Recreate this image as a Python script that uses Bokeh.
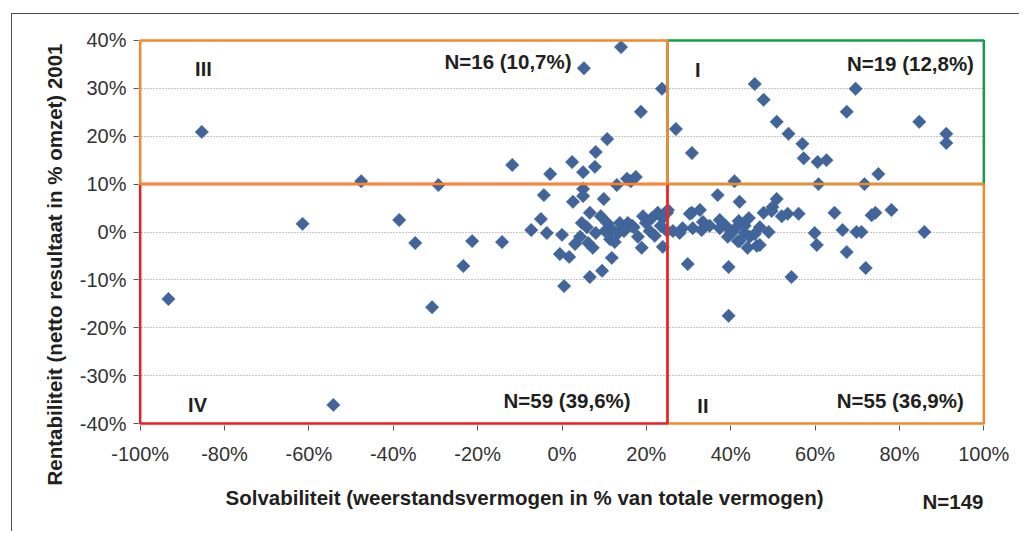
import math
from bokeh.plotting import figure
from bokeh.models import Range1d, FixedTicker, Title, ColumnDataSource
from bokeh.core.properties import value
from bokeh.embed import file_html
from bokeh.resources import INLINE

# Solvabiliteit (x, %) and Rentabiliteit (y, %) per company
solvabiliteit = [
    # quadrant III
    -85.4, -47.6, -11.8, 14.0, 5.2, 23.7, 18.7, 10.7, 8.0, 2.4, 7.8, 5.0, -2.8, 17.5, 15.4, 16.3,
    # quadrant I
    45.7, 69.6, 47.8, 67.5, 50.9, 84.7, 53.7, 91.1, 91.1, 57.0, 57.3, 60.6, 62.7, 75.0, 27.0, 30.8, 40.9, 60.8, 71.7,
    # quadrant IV
    -29.3, -61.5, -38.6, -34.8, -93.3, -54.2, -30.8, -23.4, -21.3, 13.0, 5.0, -4.3, 5.0, 2.6, 9.9, 6.6,
    -5.0, -7.3, -3.6, -14.2, 0.0, 4.7, 4.3, 6.2, 7.3, -0.5, 1.7, 11.8, 9.5, 6.6, 0.5, 16.6, 18.9, 19.2,
    23.9, 23.9, 24.9, 24.9, 10.7, 11.8, 13.7, 13.3, 11.4, 14.7, 15.6, 12.5, 10.2, 19.9, 20.8, 21.3, 22.0,
    22.7, 23.4, 8.0, 5.9, 9.2, 17.0, 18.0, 3.1,
    # quadrant II
    36.9, 42.1, 30.8, 32.7, 33.4, 37.4, 37.4, 41.9, 44.3, 40.2, 39.3, 43.3, 42.1, 44.0, 46.2, 46.9, 47.8,
    49.9, 50.9, 52.1, 53.5, 56.1, 49.0, 64.6, 59.9, 66.5, 60.4, 67.5, 69.8, 29.8, 39.5, 54.4, 39.5, 26.3,
    28.6, 31.0, 33.1, 25.1, 71.0, 72.0, 73.4, 74.3, 78.1, 85.9, 40.9, 43.3, 44.5, 41.7, 45.7, 27.9, 35.0,
    38.8, 46.9, 49.7, 30.3,
]
rentabiliteit = [
    # quadrant III
    20.9, 10.6, 14.0, 38.6, 34.2, 29.9, 25.1, 19.4, 16.7, 14.6, 13.6, 12.5, 12.1, 11.5, 11.1, 10.6,
    # quadrant I
    30.9, 29.9, 27.6, 25.1, 23.0, 23.0, 20.5, 20.5, 18.6, 18.4, 15.4, 14.6, 15.0, 12.1, 21.5, 16.5, 10.6, 10.0, 10.0,
    # quadrant IV
    9.8, 1.7, 2.5, -2.3, -14.0, -36.1, -15.7, -7.1, -1.9, 9.8, 9.0, 7.7, 7.5, 6.3, 6.9, 4.0,
    2.7, 0.4, -0.2, -2.1, -0.6, 1.9, -1.0, -2.3, -3.3, -4.6, -5.2, -5.4, -8.1, -9.4, -11.3, 1.3, -3.3, 3.3,
    -3.1, 2.9, 0.2, 4.0, 1.9, 0.6, 1.9, -0.2, -1.5, 0.2, 1.9, -2.1, 0.2, 1.9, 0.2, 2.9, -0.8,
    4.0, 1.3, -0.2, 1.0, 3.3, 1.0, -1.0, -2.5,
    # quadrant II
    7.7, 6.3, 4.0, 4.6, 2.1, 2.5, 0.8, 2.3, 2.9, -0.2, -1.0, -0.2, -1.9, -3.3, -2.9, -2.7, 4.0,
    5.2, 6.9, 3.3, 3.8, 3.8, 0.0, 4.0, -0.2, 0.4, -2.7, -4.2, 0.0, -6.7, -7.3, -9.4, -17.5, 0.2,
    0.8, 0.8, 0.4, 4.6, 0.0, -7.5, 3.5, 4.0, 4.6, 0.0, 0.6, 1.3, -1.0, -1.9, -0.4, -0.2, 1.3,
    1.3, 1.0, 4.4, 3.8,
]

x_ticks = [-100, -80, -60, -40, -20, 0, 20, 40, 60, 80, 100]
x_tick_labels = ["-100%", "-80%", "-60%", "-40%", "-20%", "0%", "20%", "40%", "60%", "80%", "100%"]
y_ticks = [-40, -30, -20, -10, 0, 10, 20, 30, 40]
y_tick_labels = ["-40%", "-30%", "-20%", "-10%", "0%", "10%", "20%", "30%", "40%"]

# quadrants (drawn in this order: I, II, IV, III)
quad_left = [25, 25, -100, -100]
quad_right = [100, 100, 25, 25]
quad_bottom = [10, -40, -40, 10]
quad_top = [40, 10, 10, 40]
quad_colors = ["#14A04A", "#F5892B", "#EE1D25", "#F5892B"]
quad_names = ["I", "II", "IV", "III"]
quad_counts = ["N=19 (12,8%)", "N=55 (36,9%)", "N=59 (39,6%)", "N=16 (10,7%)"]

name_x = [32.2, 33.4, -86.4, -85.0]
name_y = [33.8, -36.3, -36.1, 34.0]
count_x = [82.6, 80.2, 1.2, -12.8]
count_y = [35.1, -35.1, -35.1, 35.5]

x_title = "Solvabiliteit  (weerstandsvermogen in % van  totale vermogen)"
y_title = "Rentabiliteit (netto resultaat in % omzet) 2001"
n_total = "N=149"

FONT = "Liberation Sans"
TEXT = "#231F20"

p = figure(width=1008, height=518,
           x_range=Range1d(-100.4, 100.4), y_range=Range1d(-40.4, 40.4),
           output_backend="svg", toolbar_location=None,
           min_border_left=126, min_border_right=35,
           min_border_top=24, min_border_bottom=107)
p.margin = (13, 0, 0, 11)
p.styles = {"border-top": "1px solid #4d4d4d", "border-left": "1px solid #4d4d4d"}
p.outline_line_color = None
p.background_fill_color = "white"
p.border_fill_color = "white"

p.xgrid.visible = False
p.ygrid.ticker = FixedTicker(ticks=y_ticks)
p.ygrid.grid_line_color = "#8a8a8a"
p.ygrid.grid_line_dash = "1 2"
p.ygrid.grid_line_width = 1

for ax, ticks, labels in ((p.xaxis[0], x_ticks, x_tick_labels), (p.yaxis[0], y_ticks, y_tick_labels)):
    ax.ticker = FixedTicker(ticks=ticks)
    ax.major_label_overrides = {t: l for t, l in zip(ticks, labels)}
    ax.axis_line_color = None
    ax.minor_tick_line_color = None
    ax.major_tick_line_color = "#555555"
    ax.major_tick_in = 0
    ax.major_tick_out = 5
    ax.major_label_text_font = FONT
    ax.major_label_text_font_size = "20px"
    ax.major_label_text_color = "#333333"
p.xaxis.major_label_standoff = 12
p.yaxis.major_label_standoff = 7

# data points (diamonds)
p.scatter(solvabiliteit, rentabiliteit, marker="square", angle=math.pi / 4, size=9.5,
          fill_color="#41659A", line_color="#41659A", line_width=0.5)

# quadrant boxes
qsrc = ColumnDataSource(dict(left=quad_left, right=quad_right, bottom=quad_bottom,
                             top=quad_top, color=quad_colors))
p.quad(left="left", right="right", bottom="bottom", top="top", source=qsrc,
       fill_color=None, line_color="color", line_width=2.5)

# quadrant texts
p.text(x=name_x, y=name_y, text=quad_names, text_font=value(FONT), text_font_style="bold",
       text_font_size="20px", text_color=TEXT, text_align="center", text_baseline="middle")
p.text(x=count_x, y=count_y, text=quad_counts, text_font=value(FONT), text_font_style="bold",
       text_font_size="20.5px", text_color=TEXT, text_align="center", text_baseline="middle")

# axis titles
def make_title(text, **kw):
    return Title(text=text, text_font=FONT, text_font_style="bold", text_font_size="20.5px",
                 text_color=TEXT, **kw)

p.add_layout(make_title(y_title, align="right", offset=5, standoff=19, vertical_align="middle"), "left")
p.add_layout(make_title(x_title, align="left", offset=87, standoff=34, vertical_align="middle"), "below")
p.add_layout(make_title(n_total, align="right", offset=2, standoff=-74, vertical_align="top"), "below")

open("out.html", "w").write(file_html(p, INLINE))
